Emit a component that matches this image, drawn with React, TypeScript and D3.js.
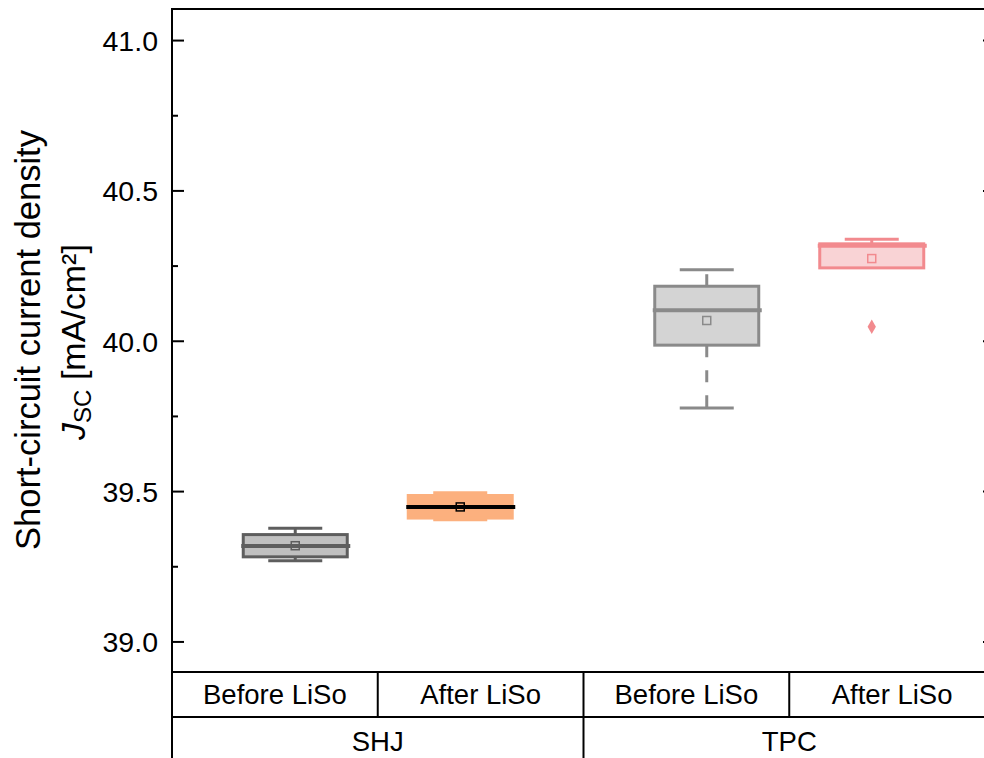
import React from "react";
import * as d3 from "d3";

// box chart data
const groups = ["SHJ", "TPC"];
const conditions = ["Before LiSo", "After LiSo"];

const boxGroup = ["SHJ", "SHJ", "TPC", "TPC"];
const boxCondition = ["Before LiSo", "After LiSo", "Before LiSo", "After LiSo"];
const whiskerMax = [39.378, 39.496, 40.238, 40.339];
const q3 = [39.357, 39.487, 40.183, 40.324];
const median = [39.319, 39.449, 40.103, 40.318];
const q1 = [39.283, 39.412, 39.987, 40.244];
const whiskerMin = [39.27, 39.406, 39.778, 40.248];
const mean = [39.32, 39.449, 40.069, 40.275];
const outliers = [[], [], [], [40.048]];

const strokeColor = ["#5e5e5e", "#fcb07e", "#8a8a8a", "#f28a8e"];
const fillColor = ["#c0c0c0", "#fcb07e", "#d4d4d4", "#f9d3d5"];
const medianColor = ["#5e5e5e", "#000000", "#8a8a8a", "#f28a8e"];

const majorTicks = [39.0, 39.5, 40.0, 40.5, 41.0];
const minorTicks = [39.25, 39.75, 40.25, 40.75];

const W = 984;
const H = 758;
const left = 172;
const right = 995;
const top = 9;
const bottom = 672;
const row1 = 717;
const row2 = 770;
const font = "'Liberation Sans', Arial, sans-serif";

export default function App() {
  const y = d3.scaleLinear().domain([38.9, 41.105]).range([bottom, top]);
  const xGroup = d3.scaleBand().domain(groups).range([left, right]);
  const xSub = d3
    .scalePoint()
    .domain(conditions)
    .range([0, xGroup.bandwidth()])
    .padding(0.747);

  const boxW = 104;
  const capW = 54;
  const diamond = d3.symbol().type(d3.symbolDiamond).size(60)();

  const boxes = boxGroup.map((g, i) => {
    const cx = (xGroup(g) as number) + (xSub(boxCondition[i]) as number);
    return { cx, i };
  });

  return (
    <svg
      width={W}
      height={H}
      style={{ position: "absolute", left: 0, top: 0, background: "#fff" }}
      fontFamily={font}
    >
      {/* boxes */}
      {boxes.map(({ cx, i }) => (
        <g key={i}>
          <line
            x1={cx}
            x2={cx}
            y1={y(q3[i])}
            y2={y(whiskerMax[i])}
            stroke={strokeColor[i]}
            strokeWidth={3}
            strokeDasharray="12,13"
          />
          <line
            x1={cx}
            x2={cx}
            y1={y(q1[i])}
            y2={y(whiskerMin[i])}
            stroke={strokeColor[i]}
            strokeWidth={3}
            strokeDasharray="12,13"
          />
          <line
            x1={cx - capW / 2}
            x2={cx + capW / 2}
            y1={y(whiskerMax[i])}
            y2={y(whiskerMax[i])}
            stroke={strokeColor[i]}
            strokeWidth={3}
          />
          <line
            x1={cx - capW / 2}
            x2={cx + capW / 2}
            y1={y(whiskerMin[i])}
            y2={y(whiskerMin[i])}
            stroke={strokeColor[i]}
            strokeWidth={3}
          />
          <rect
            x={cx - boxW / 2}
            y={y(q3[i])}
            width={boxW}
            height={y(q1[i]) - y(q3[i])}
            fill={fillColor[i]}
            stroke={strokeColor[i]}
            strokeWidth={3}
          />
          <line
            x1={cx - boxW / 2 - 2}
            x2={cx + boxW / 2 + 3}
            y1={y(median[i])}
            y2={y(median[i])}
            stroke={medianColor[i]}
            strokeWidth={4}
          />
          <rect
            x={cx - 4}
            y={y(mean[i]) - 4}
            width={8}
            height={8}
            fill="none"
            stroke={medianColor[i]}
            strokeWidth={1.5}
          />
          {outliers[i].map((v, k) => (
            <path
              key={k}
              d={diamond as string}
              transform={`translate(${cx},${y(v)})`}
              fill={strokeColor[i]}
            />
          ))}
        </g>
      ))}

      {/* frame */}
      <rect
        x={left}
        y={top}
        width={right - left}
        height={bottom - top}
        fill="none"
        stroke="#000"
        strokeWidth={2}
      />
      {majorTicks.map((t) => (
        <g key={t}>
          <line x1={left} x2={left + 12} y1={y(t)} y2={y(t)} stroke="#000" strokeWidth={2} />
          <line x1={right - 12} x2={right} y1={y(t)} y2={y(t)} stroke="#000" strokeWidth={2} />
          <text
            x={158}
            y={y(t)}
            dy="0.36em"
            textAnchor="end"
            fontSize={28.5}
            fill="#000"
          >
            {d3.format(".1f")(t)}
          </text>
        </g>
      ))}
      {minorTicks.map((t) => (
        <line key={t} x1={left} x2={left + 6} y1={y(t)} y2={y(t)} stroke="#000" strokeWidth={2} />
      ))}

      {/* axis title */}
      <g transform="translate(40,340) rotate(-90)">
        <text textAnchor="middle" fontSize={34.5} fill="#000">
          Short-circuit current density
        </text>
      </g>
      <g transform="translate(85,342) rotate(-90)">
        <text textAnchor="middle" fontSize={34} fill="#000">
          <tspan fontStyle="italic">J</tspan>
          <tspan fontSize={24} dy={6}>SC</tspan>
          <tspan dy={-6}> [mA/cm²]</tspan>
        </text>
      </g>

      {/* category table */}
      <line x1={left} x2={left} y1={bottom} y2={H} stroke="#000" strokeWidth={2} />
      <line x1={left} x2={right} y1={row1} y2={row1} stroke="#000" strokeWidth={2} />
      <line x1={right} x2={right} y1={bottom} y2={H} stroke="#000" strokeWidth={2} />
      {groups.map((g) => {
        const gx = xGroup(g) as number;
        return (
          <g key={g}>
            <line x1={gx} x2={gx} y1={bottom} y2={row2} stroke="#000" strokeWidth={2} />
            <line
              x1={gx + xGroup.bandwidth() / 2}
              x2={gx + xGroup.bandwidth() / 2}
              y1={bottom}
              y2={row1}
              stroke="#000"
              strokeWidth={2}
            />
            {conditions.map((c, k) => (
              <text
                key={c}
                x={gx + (xGroup.bandwidth() / 4) * (2 * k + 1)}
                y={(bottom + row1) / 2}
                dy="0.36em"
                textAnchor="middle"
                fontSize={27.5}
                fill="#000"
              >
                {c}
              </text>
            ))}
            <text
              x={gx + xGroup.bandwidth() / 2}
              y={741}
              dy="0.36em"
              textAnchor="middle"
              fontSize={27.5}
              fill="#000"
            >
              {g}
            </text>
          </g>
        );
      })}
    </svg>
  );
}
